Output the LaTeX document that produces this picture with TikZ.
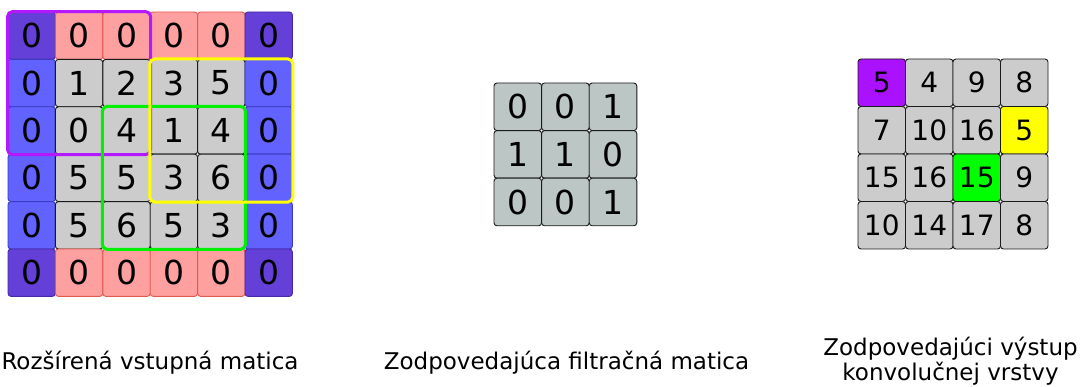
\documentclass[tikz,border=0pt]{standalone}
\usepackage{fontspec}
\setmainfont{DejaVu Sans}
\definecolor{pinkfill}{HTML}{FFA0A0}
\definecolor{pinkdraw}{HTML}{E05A50}
\definecolor{bluefill}{HTML}{6262FF}
\definecolor{bluedraw}{HTML}{3C3CC0}
\definecolor{cornerfill}{HTML}{6440D8}
\definecolor{cornerdraw}{HTML}{4628A8}
\definecolor{greyfill}{HTML}{CCCCCC}
\definecolor{greydraw}{HTML}{1A1A1A}
\definecolor{filterfill}{HTML}{BCC6C4}
\definecolor{outpurple}{HTML}{AA11FF}
\definecolor{outyellow}{HTML}{FFFF00}
\definecolor{outgreen}{HTML}{00FF00}
\definecolor{linepurple}{HTML}{B318FF}
\definecolor{lineyellow}{HTML}{FFFF00}
\definecolor{linegreen}{HTML}{00F000}
\begin{document}
\begin{tikzpicture}[x=1pt,y=-1pt,
  cell/.style={rectangle, rounded corners=3pt, inner sep=0pt, line width=0.9pt,
    minimum width=#1, minimum height=#1},
  bigdigits/.style={font=\fontsize{33}{33}\selectfont},
  smalldigits/.style={font=\fontsize{28}{28}\selectfont},
  kind0/.style={fill=greyfill, draw=greydraw},
  kind1/.style={fill=bluefill, draw=bluedraw},
  kind2/.style={fill=pinkfill, draw=pinkdraw},
  kind3/.style={fill=cornerfill, draw=cornerdraw},
  filtercell/.style={fill=filterfill, draw=greydraw},
  okind0/.style={fill=greyfill, draw=greydraw},
  okind1/.style={fill=outpurple, draw=greydraw},
  okind2/.style={fill=outyellow, draw=greydraw},
  okind3/.style={fill=outgreen, draw=greydraw},
  window/.style={line width=3pt, rounded corners=5pt},
  lbl/.style={font=\fontsize{23}{25}\selectfont, inner sep=0pt}
]
\useasboundingbox (0,0) rectangle (1084,387);

% ---- extended input matrix ----
\foreach \r in {0,...,5}{
  \foreach \c in {0,...,5}{
    \pgfmathtruncatemacro\edgeR{(\r==0)||(\r==5)}
    \pgfmathtruncatemacro\edgeC{(\c==0)||(\c==5)}
    \pgfmathtruncatemacro\kind{\edgeR*2+\edgeC}
    \pgfmathtruncatemacro\val{{0,0,0,0,0,0, 0,1,2,3,5,0, 0,0,4,1,4,0, 0,5,5,3,6,0, 0,5,6,5,3,0, 0,0,0,0,0,0}[6*\r+\c]}
    \node[cell=47.4pt, kind\kind, bigdigits] (in-\r-\c) at (8+47.4*\c+23.7, 12+47.4*\r+23.7) {\val};
  }
}
\draw[window, linepurple] (in-0-0.north west) rectangle (in-2-2.south east);
\draw[window, linegreen] (in-2-2.north west) rectangle (in-4-4.south east);
\draw[window, lineyellow] (in-1-3.north west) rectangle (in-3-5.south east);

% ---- filter matrix ----
\foreach \r in {0,...,2}{
  \foreach \c in {0,...,2}{
    \pgfmathtruncatemacro\val{{0,0,1, 1,1,0, 0,0,1}[3*\r+\c]}
    \node[cell=47.6pt, filtercell, bigdigits] (f-\r-\c) at (494+47.6*\c+23.8, 83+47.6*\r+23.8) {\val};
  }
}

% ---- output matrix ----
\foreach \r in {0,...,3}{
  \foreach \c in {0,...,3}{
    \pgfmathtruncatemacro\val{{5,4,9,8, 7,10,16,5, 15,16,15,9, 10,14,17,8}[4*\r+\c]}
    \pgfmathtruncatemacro\kind{{1,0,0,0, 0,0,0,2, 0,0,3,0, 0,0,0,0}[4*\r+\c]}
    \node[cell=47.5pt, okind\kind, smalldigits] (o-\r-\c) at (858+47.5*\c+23.75, 59+47.5*\r+23.75) {\val};
  }
}

% ---- labels ----
\node[lbl, anchor=base] (lab-in) at (150,369) {Rozšírená vstupná matica};
\node[lbl, anchor=base] (lab-f) at (566.5,369) {Zodpovedajúca filtračná matica};
\node[lbl, anchor=base, align=center] (lab-out) at (950.5,380.5) {Zodpovedajúci výstup\\konvolučnej vrstvy};
\end{tikzpicture}
\end{document}
